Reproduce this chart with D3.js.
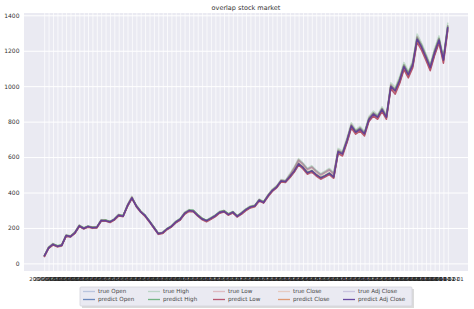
<!DOCTYPE html>
<html>
<head>
<meta charset="utf-8">
<script src="https://cdn.jsdelivr.net/npm/d3@7"></script>
<style>
  body { margin: 0; background: #fff; }
  svg { display: block; font-family: 'DejaVu Sans', sans-serif; }
</style>
</head>
<body>
<script>
// one value every second month, Aug 2004 .. Dec 2019
const trueOpen = [42, 85, 108, 98, 99, 155, 152, 172, 210, 198,
  208, 202, 204, 241, 242, 236, 248, 271, 267, 325,
  370, 325, 292, 272, 238, 204, 168, 173, 193, 208,
  232, 248, 282, 298, 297, 272, 252, 241, 253, 268,
  288, 296, 277, 288, 267, 283, 303, 318, 326, 356,
  348, 381, 412, 433, 466, 467, 497, 536, 580, 563,
  533, 543, 522, 502, 513, 528, 508, 632, 628, 695,
  778, 749, 762, 738, 815, 846, 833, 870, 835, 1000,
  985, 1035, 1114, 1075, 1125, 1270, 1236, 1175, 1115, 1193,
  1262, 1158, 1338]
const predictOpen = [41, 84, 105, 99, 101, 152, 154, 170, 207, 200,
  206, 204, 203, 238, 243, 235, 246, 269, 268, 322,
  366, 327, 294, 271, 239, 205, 170, 171, 191, 206,
  230, 246, 279, 296, 298, 273, 253, 242, 252, 266,
  286, 297, 278, 286, 268, 281, 301, 316, 325, 353,
  346, 378, 409, 431, 462, 463, 486, 518, 556, 541,
  512, 518, 500, 481, 490, 504, 488, 620, 620, 684,
  765, 742, 750, 731, 803, 835, 826, 858, 826, 985,
  975, 1022, 1100, 1066, 1110, 1255, 1222, 1158, 1100, 1180,
  1250, 1150, 1322]
const trueHigh = [43, 93, 113, 98, 103, 163, 153, 178, 218, 198,
  213, 203, 208, 248, 243, 238, 253, 278, 268, 333,
  379, 323, 293, 273, 238, 203, 168, 178, 198, 213,
  239, 254, 289, 304, 299, 274, 254, 244, 259, 274,
  294, 299, 279, 294, 269, 289, 309, 324, 329, 364,
  349, 389, 419, 439, 474, 469, 506, 546, 591, 566,
  536, 551, 526, 506, 521, 536, 511, 649, 634, 709,
  794, 754, 774, 744, 829, 859, 839, 884, 839, 1019,
  994, 1054, 1134, 1084, 1144, 1294, 1244, 1184, 1124, 1214,
  1284, 1164, 1359]
const predictHigh = [41, 91, 109, 100, 106, 158, 156, 175, 214, 201,
  210, 206, 205, 244, 245, 236, 250, 274, 271, 327,
  371, 327, 296, 271, 240, 206, 171, 175, 196, 211,
  236, 252, 285, 301, 300, 276, 255, 243, 257, 272,
  291, 298, 280, 292, 270, 286, 306, 321, 327, 359,
  348, 384, 414, 434, 467, 464, 493, 525, 565, 543,
  513, 525, 503, 485, 497, 511, 490, 636, 623, 698,
  780, 746, 763, 736, 818, 848, 830, 873, 830, 1003,
  982, 1042, 1120, 1074, 1130, 1274, 1230, 1172, 1114, 1200,
  1270, 1157, 1342]
const trueLow = [37, 87, 107, 92, 97, 157, 147, 172, 212, 192,
  207, 197, 202, 242, 237, 232, 247, 272, 262, 327,
  372, 317, 287, 267, 232, 197, 162, 172, 192, 207,
  231, 246, 281, 296, 291, 266, 246, 236, 251, 266,
  286, 291, 271, 286, 261, 281, 301, 316, 321, 356,
  341, 381, 411, 431, 466, 461, 494, 534, 579, 554,
  524, 539, 514, 494, 509, 524, 499, 630, 615, 690,
  775, 735, 755, 725, 810, 840, 820, 865, 820, 1000,
  962, 1022, 1102, 1052, 1112, 1262, 1212, 1152, 1092, 1182,
  1252, 1132, 1327]
const predictLow = [35, 85, 103, 94, 100, 152, 150, 169, 208, 195,
  204, 200, 199, 238, 239, 230, 244, 268, 265, 321,
  365, 321, 290, 265, 234, 200, 165, 169, 190, 205,
  228, 244, 277, 293, 292, 268, 247, 235, 249, 264,
  283, 290, 272, 284, 262, 278, 298, 313, 319, 351,
  340, 376, 406, 426, 459, 456, 483, 515, 555, 533,
  503, 515, 493, 475, 487, 501, 480, 619, 606, 681,
  763, 729, 746, 719, 801, 831, 813, 856, 813, 986,
  955, 1015, 1093, 1047, 1103, 1247, 1203, 1145, 1087, 1173,
  1243, 1130, 1315]
const trueClose = [40, 90, 110, 95, 100, 160, 150, 175, 215, 195,
  210, 200, 205, 245, 240, 235, 250, 275, 265, 330,
  375, 320, 290, 270, 235, 200, 165, 175, 195, 210,
  235, 250, 285, 300, 295, 270, 250, 240, 255, 270,
  290, 295, 275, 290, 265, 285, 305, 320, 325, 360,
  345, 385, 415, 435, 470, 465, 500, 540, 585, 560,
  530, 545, 520, 500, 515, 530, 505, 640, 625, 700,
  785, 745, 765, 735, 820, 850, 830, 875, 830, 1010,
  980, 1040, 1120, 1070, 1130, 1280, 1230, 1170, 1110, 1200,
  1270, 1150, 1345]
const predictClose = [38, 88, 106, 97, 103, 155, 153, 172, 211, 198,
  207, 203, 202, 241, 242, 233, 247, 271, 268, 324,
  368, 324, 293, 268, 237, 203, 168, 172, 193, 208,
  232, 248, 281, 297, 296, 272, 251, 239, 253, 268,
  287, 294, 276, 288, 266, 282, 302, 317, 323, 355,
  344, 380, 410, 430, 463, 460, 488, 520, 560, 538,
  508, 520, 498, 480, 492, 506, 485, 628, 615, 690,
  772, 738, 755, 728, 810, 840, 822, 865, 822, 995,
  970, 1030, 1108, 1062, 1118, 1262, 1218, 1160, 1102, 1188,
  1258, 1145, 1330]
const trueAdjClose = [40, 90, 110, 95, 100, 160, 150, 175, 215, 195,
  210, 200, 205, 245, 240, 235, 250, 275, 265, 330,
  375, 320, 290, 270, 235, 200, 165, 175, 195, 210,
  235, 250, 285, 300, 295, 270, 250, 240, 255, 270,
  290, 295, 275, 290, 265, 285, 305, 320, 325, 360,
  345, 385, 415, 435, 470, 465, 500, 540, 585, 560,
  530, 545, 520, 500, 515, 530, 505, 640, 625, 700,
  785, 745, 765, 735, 820, 850, 830, 875, 830, 1010,
  980, 1040, 1120, 1070, 1130, 1280, 1230, 1170, 1110, 1200,
  1270, 1150, 1345]
const predictAdjClose = [39, 87, 107, 96, 102, 157, 151, 173, 212, 197,
  208, 201, 203, 242, 241, 234, 248, 272, 266, 326,
  370, 322, 291, 269, 236, 201, 167, 173, 194, 209,
  233, 249, 282, 298, 294, 271, 250, 240, 254, 269,
  288, 293, 275, 289, 265, 283, 303, 318, 324, 357,
  343, 382, 411, 431, 465, 461, 490, 522, 562, 540,
  510, 522, 500, 482, 494, 508, 487, 630, 617, 692,
  775, 740, 757, 730, 812, 842, 824, 868, 824, 998,
  973, 1032, 1110, 1064, 1120, 1265, 1220, 1162, 1104, 1190,
  1260, 1147, 1333]

const yTicks = [0, 200, 400, 600, 800, 1000, 1200, 1400]
const yLimits = [-43, 1413]
const months = d3.utcMonth.range(new Date(Date.UTC(2004, 7, 1)), new Date(Date.UTC(2020, 0, 1)), 2)

// legend order (column major, 5 columns)
const series = [
  { name: 'true Open', values: trueOpen, color: '#4C72B0', opacity: 0.3 },
  { name: 'predict Open', values: predictOpen, color: '#4C72B0', opacity: 0.8 },
  { name: 'true High', values: trueHigh, color: '#55A868', opacity: 0.3 },
  { name: 'predict High', values: predictHigh, color: '#55A868', opacity: 0.8 },
  { name: 'true Low', values: trueLow, color: '#C44E52', opacity: 0.3 },
  { name: 'predict Low', values: predictLow, color: '#B0405C', opacity: 0.85 },
  { name: 'true Close', values: trueClose, color: '#DD8452', opacity: 0.3 },
  { name: 'predict Close', values: predictClose, color: '#DD8452', opacity: 0.8 },
  { name: 'true Adj Close', values: trueAdjClose, color: '#8172B3', opacity: 0.3 },
  { name: 'predict Adj Close', values: predictAdjClose, color: '#5A3A9A', opacity: 0.9 }
]

const W = 474
const H = 309
const plot = { left: 24, right: 468, top: 13, bottom: 271 }

const svg = d3.select('body').append('svg')
  .attr('width', W)
  .attr('height', H)
  .attr('viewBox', [0, 0, W, H])

svg.append('rect').attr('width', W).attr('height', H).attr('fill', '#fff')
svg.append('rect')
  .attr('x', plot.left)
  .attr('y', plot.top)
  .attr('width', plot.right - plot.left)
  .attr('height', plot.bottom - plot.top)
  .attr('fill', '#EAEAF2')

const span = months[months.length - 1] - months[0]
const x = d3.scaleUtc()
  .domain([+months[0] - span * 0.05, +months[months.length - 1] + span * 0.05])
  .range([plot.left, plot.right])
const y = d3.scaleLinear().domain(yLimits).range([plot.bottom, plot.top])

const xAxis = g => g
  .attr('transform', `translate(0,${plot.bottom})`)
  .call(d3.axisBottom(x)
    .tickValues(months)
    .tickFormat(d3.utcFormat('%Y-%m-%d'))
    .tickSize(-(plot.bottom - plot.top))
    .tickPadding(6))
  .call(g => g.select('.domain').remove())
  .call(g => g.selectAll('.tick line')
    .attr('stroke', '#fff')
    .attr('stroke-width', 0.7))
  .call(g => g.selectAll('.tick text')
    .attr('font-size', 5.3)
    .attr('fill', '#262626'))

const yAxis = g => g
  .attr('transform', `translate(${plot.left},0)`)
  .call(d3.axisLeft(y)
    .tickValues(yTicks)
    .tickFormat(d3.format('d'))
    .tickSize(-(plot.right - plot.left))
    .tickPadding(4.5))
  .call(g => g.select('.domain').remove())
  .call(g => g.selectAll('.tick line')
    .attr('stroke', '#fff')
    .attr('stroke-width', 1))
  .call(g => g.selectAll('.tick text')
    .attr('font-size', 6)
    .attr('fill', '#333'))

svg.append('g').call(xAxis).attr('font-family', null)
svg.append('g').call(yAxis).attr('font-family', null)

const line = d3.line()
  .x((d, i) => x(months[i]))
  .y(d => y(d))

svg.append('g')
  .attr('class', 'lines')
  .selectAll('path')
  .data(series).enter()
  .append('path')
  .attr('fill', 'none')
  .attr('stroke', d => d.color)
  .attr('stroke-opacity', d => d.opacity)
  .attr('stroke-width', (d, i) => i === series.length - 1 ? 1.6 : 1.5)
  .attr('stroke-linejoin', 'round')
  .attr('d', d => line(d.values))

svg.append('text')
  .text('overlap stock market')
  .attr('x', (plot.left + plot.right) / 2)
  .attr('y', 9.5)
  .attr('text-anchor', 'middle')
  .attr('font-size', 6.5)
  .attr('fill', '#333')

// legend
const legend = svg.append('g').attr('class', 'legend')
legend.append('rect')
  .attr('x', 82).attr('y', 289)
  .attr('width', 332).attr('height', 19)
  .attr('fill', '#999').attr('opacity', 0.35)
legend.append('rect')
  .attr('x', 80).attr('y', 287)
  .attr('width', 332).attr('height', 19)
  .attr('rx', 1)
  .attr('fill', '#EAEAF2')
  .attr('stroke', '#d4d4dc')
  .attr('stroke-width', 0.8)

const item = legend.selectAll('g.item')
  .data(series).enter()
  .append('g')
  .attr('class', 'item')
  .attr('transform', (d, i) => `translate(${83 + 65 * Math.floor(i / 2)},${291.5 + 8 * (i % 2)})`)
item.append('path')
  .attr('d', 'M0,0h12')
  .attr('stroke', d => d.color)
  .attr('stroke-opacity', d => d.opacity)
  .attr('stroke-width', 1.3)
item.append('text')
  .text(d => d.name)
  .attr('x', 15)
  .attr('dy', '0.35em')
  .attr('font-size', 5.6)
  .attr('fill', '#444')
</script>
</body>
</html>
